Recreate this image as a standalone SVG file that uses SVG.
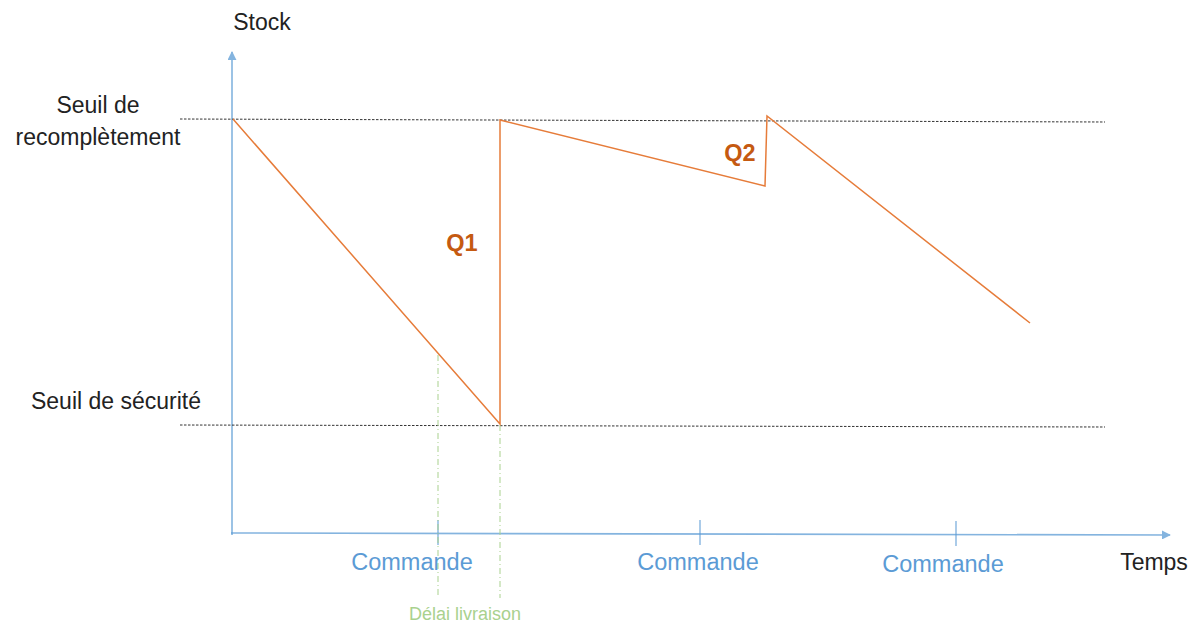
<svg xmlns="http://www.w3.org/2000/svg" width="1197" height="623" viewBox="0 0 1197 623">
  <style>
    .lbl { font-family: "Liberation Sans", Arial, sans-serif; font-size: 23px; fill: #222; text-anchor: middle; }
    .cmd { font-family: "Liberation Sans", Arial, sans-serif; font-size: 23.5px; fill: #5b9bd5; text-anchor: middle; }
    .q { font-family: "Liberation Sans", Arial, sans-serif; font-size: 23.5px; font-weight: bold; fill: #c55a11; text-anchor: middle; }
    .delai { font-family: "Liberation Sans", Arial, sans-serif; font-size: 18px; fill: #a9d18e; text-anchor: middle; }
    .axis { stroke: #5b9bd5; stroke-width: 1.6; fill: none; opacity: 0.75; }
    .tick { stroke: #5b9bd5; stroke-width: 1.2; opacity: 0.85; }
    .seuil { stroke: #333; stroke-width: 1; stroke-dasharray: 2.5 1.5; fill: none; }
    .stock { stroke: #e67c3a; stroke-width: 1.5; fill: none; }
    .guide { stroke: #a9d18e; stroke-width: 1; stroke-dasharray: 6 3 1 3; fill: none; }
  </style>
  <defs>
    <marker id="arrow" viewBox="0 0 10 10" refX="9" refY="5" markerWidth="9" markerHeight="9" orient="auto" markerUnits="userSpaceOnUse">
      <path d="M0,0 L10,5 L0,10 z" fill="#5b9bd5"/>
    </marker>
  </defs>

  <rect width="1197" height="623" fill="#ffffff"/>

  <!-- axes -->
  <g id="axes">
    <line class="axis" x1="232" y1="535" x2="232" y2="52" marker-end="url(#arrow)"/>
    <line class="axis" x1="231" y1="533" x2="1170" y2="535" marker-end="url(#arrow)"/>
    <line class="tick" x1="438" y1="520" x2="438" y2="545"/>
    <line class="tick" x1="700" y1="520" x2="700" y2="545"/>
    <line class="tick" x1="956" y1="521" x2="956" y2="546"/>
  </g>

  <!-- threshold lines -->
  <g id="seuils">
    <line class="seuil" x1="180" y1="119" x2="1105" y2="122"/>
    <line class="seuil" x1="180" y1="425" x2="1105" y2="427"/>
  </g>

  <!-- lead-time guides -->
  <g id="delai">
    <line class="guide" x1="438" y1="355" x2="438" y2="598"/>
    <line class="guide" x1="500" y1="425" x2="500" y2="598"/>
  </g>

  <!-- stock level -->
  <g id="connectors">
    <polyline class="stock" points="233,119 500,424 500,120 765,186 767,116 1030,323"/>
  </g>

  <!-- labels -->
  <g id="labels">
    <text class="lbl" x="262" y="30">Stock</text>
    <text class="lbl" x="98" y="113">Seuil de</text>
    <text class="lbl" x="98" y="145">recomplètement</text>
    <text class="lbl" x="116" y="409">Seuil de sécurité</text>
    <text class="lbl" x="1154" y="570">Temps</text>
    <text class="q" x="462" y="251">Q1</text>
    <text class="q" x="740" y="161">Q2</text>
    <text class="cmd" x="412" y="570">Commande</text>
    <text class="cmd" x="698" y="570">Commande</text>
    <text class="cmd" x="943" y="572">Commande</text>
    <text class="delai" x="465" y="620">Délai livraison</text>
  </g>
</svg>
